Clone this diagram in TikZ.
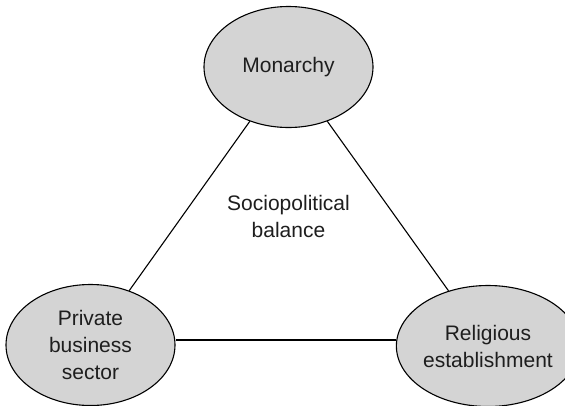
\documentclass[tikz,border=0pt]{standalone}
\usepackage{fontspec}
\setmainfont{Liberation Sans}
\usetikzlibrary{shapes.geometric}
\definecolor{bubble}{HTML}{D4D4D4}
\definecolor{ink}{HTML}{1E1E1E}
\begin{document}
\begin{tikzpicture}[x=1pt,y=-1pt,
  actor/.style={ellipse, draw=black, line width=1.1pt, fill=bubble, inner sep=0pt,
    minimum width=169pt, minimum height=121pt, text=ink,
    align=center, font=\fontsize{21}{27}\selectfont},
  link/.style={draw=black, line width=1.1pt},
  label/.style={align=center, text=ink, font=\fontsize{21}{27}\selectfont}]
  \useasboundingbox (0,0) rectangle (565,405);
  % the three actors
  \node[actor] (mon) at (288.5,67) {Monarchy};
  \node[actor] (pri) at (90.5,345) {Private\\business\\sector};
  \node[actor] (rel) at (488,346) {Religious\\establishment};
  % centre label
  \node[label] (bal) at (288.5,216) {Sociopolitical\\balance};
  % edges of the triangle
  \draw[link] (mon) -- (pri);
  \draw[link] (mon) -- (rel);
  \draw[link] (pri.east |- 0,340) -- (rel.west |- 0,340);
\end{tikzpicture}
\end{document}
